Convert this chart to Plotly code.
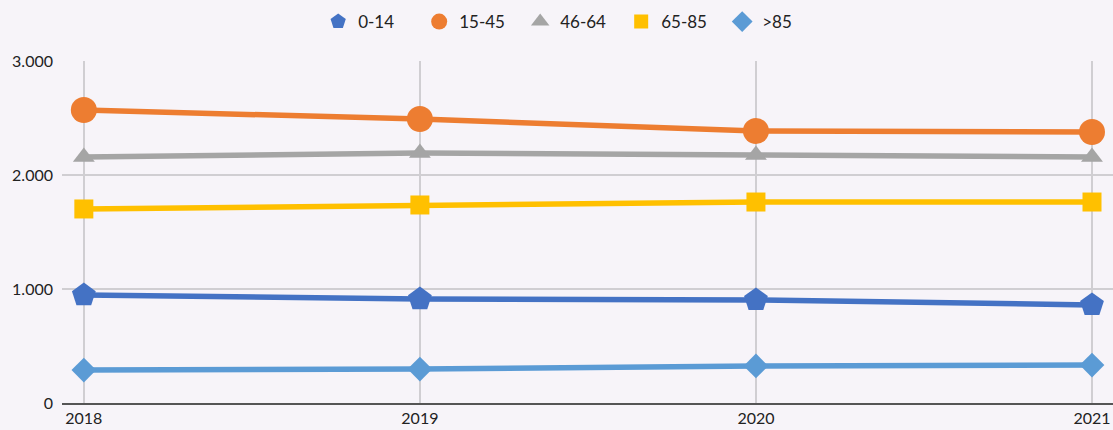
import plotly.graph_objects as go

years = [2018, 2019, 2020, 2021]
series_names = ["0-14", "15-45", "46-64", "65-85", ">85"]
v_0_14 = [947, 912, 904, 860]
v_15_45 = [2570, 2491, 2386, 2377]
v_46_64 = [2158, 2193, 2175, 2158]
v_65_85 = [1702, 1737, 1763, 1763]
v_85p = [289, 298, 325, 333]
y_ticks = [0, 1000, 2000, 3000]

values = [v_0_14, v_15_45, v_46_64, v_65_85, v_85p]
colors = ["#4472C4", "#ED7D31", "#A5A5A5", "#FFC000", "#5B9BD5"]
symbols = ["pentagon", "circle", "triangle-up", "square", "diamond"]
msizes = [25, 26, 19, 19, 19]
lsizes = [16, 16, 16, 14, 16]

FONT = "Lato"
fig = go.Figure()
for name, vals, c, s, ms in zip(series_names, values, colors, symbols, msizes):
    fig.add_trace(go.Scatter(
        x=years, y=vals, mode="lines+markers", name=name, showlegend=False,
        line=dict(color=c, width=5.5),
        marker=dict(symbol=s, size=ms, color=c),
    ))
for name, c, s, ls in zip(series_names, colors, symbols, lsizes):
    fig.add_trace(go.Scatter(
        x=[None], y=[None], mode="markers", name=name,
        marker=dict(symbol=s, size=ls, color=c),
    ))

fig.update_layout(
    width=1113, height=430,
    margin=dict(l=62, r=0, t=61, b=27),
    paper_bgcolor="#F7F4F9", plot_bgcolor="#F7F4F9",
    separators=",.",
    font=dict(family=FONT, size=16, color="#222222"),
    legend=dict(orientation="h", x=0.484, xanchor="center", y=1.114, yanchor="middle",
                font=dict(size=17), entrywidth=56, bgcolor="rgba(0,0,0,0)"),
    xaxis=dict(range=[2017.935, 2021.0625], tickvals=years, ticktext=[str(y) for y in years],
               showgrid=True, gridcolor="#D0CED2", gridwidth=1.5, zeroline=False,
               showline=True, linecolor="#555555", linewidth=1.5, ticks="",
               tickfont=dict(size=16)),
    yaxis=dict(range=[0, 3000], tickvals=y_ticks, tickformat=",d",
               showgrid=True, gridcolor="#D0CED2", gridwidth=1.5, zeroline=False,
               showline=False, ticks="", ticklabelstandoff=8, tickfont=dict(size=16)),
)
fig.write_html("out.html", config={"displayModeBar": False},
               post_script="document.body.style.margin='0';document.body.style.overflow='hidden';")
